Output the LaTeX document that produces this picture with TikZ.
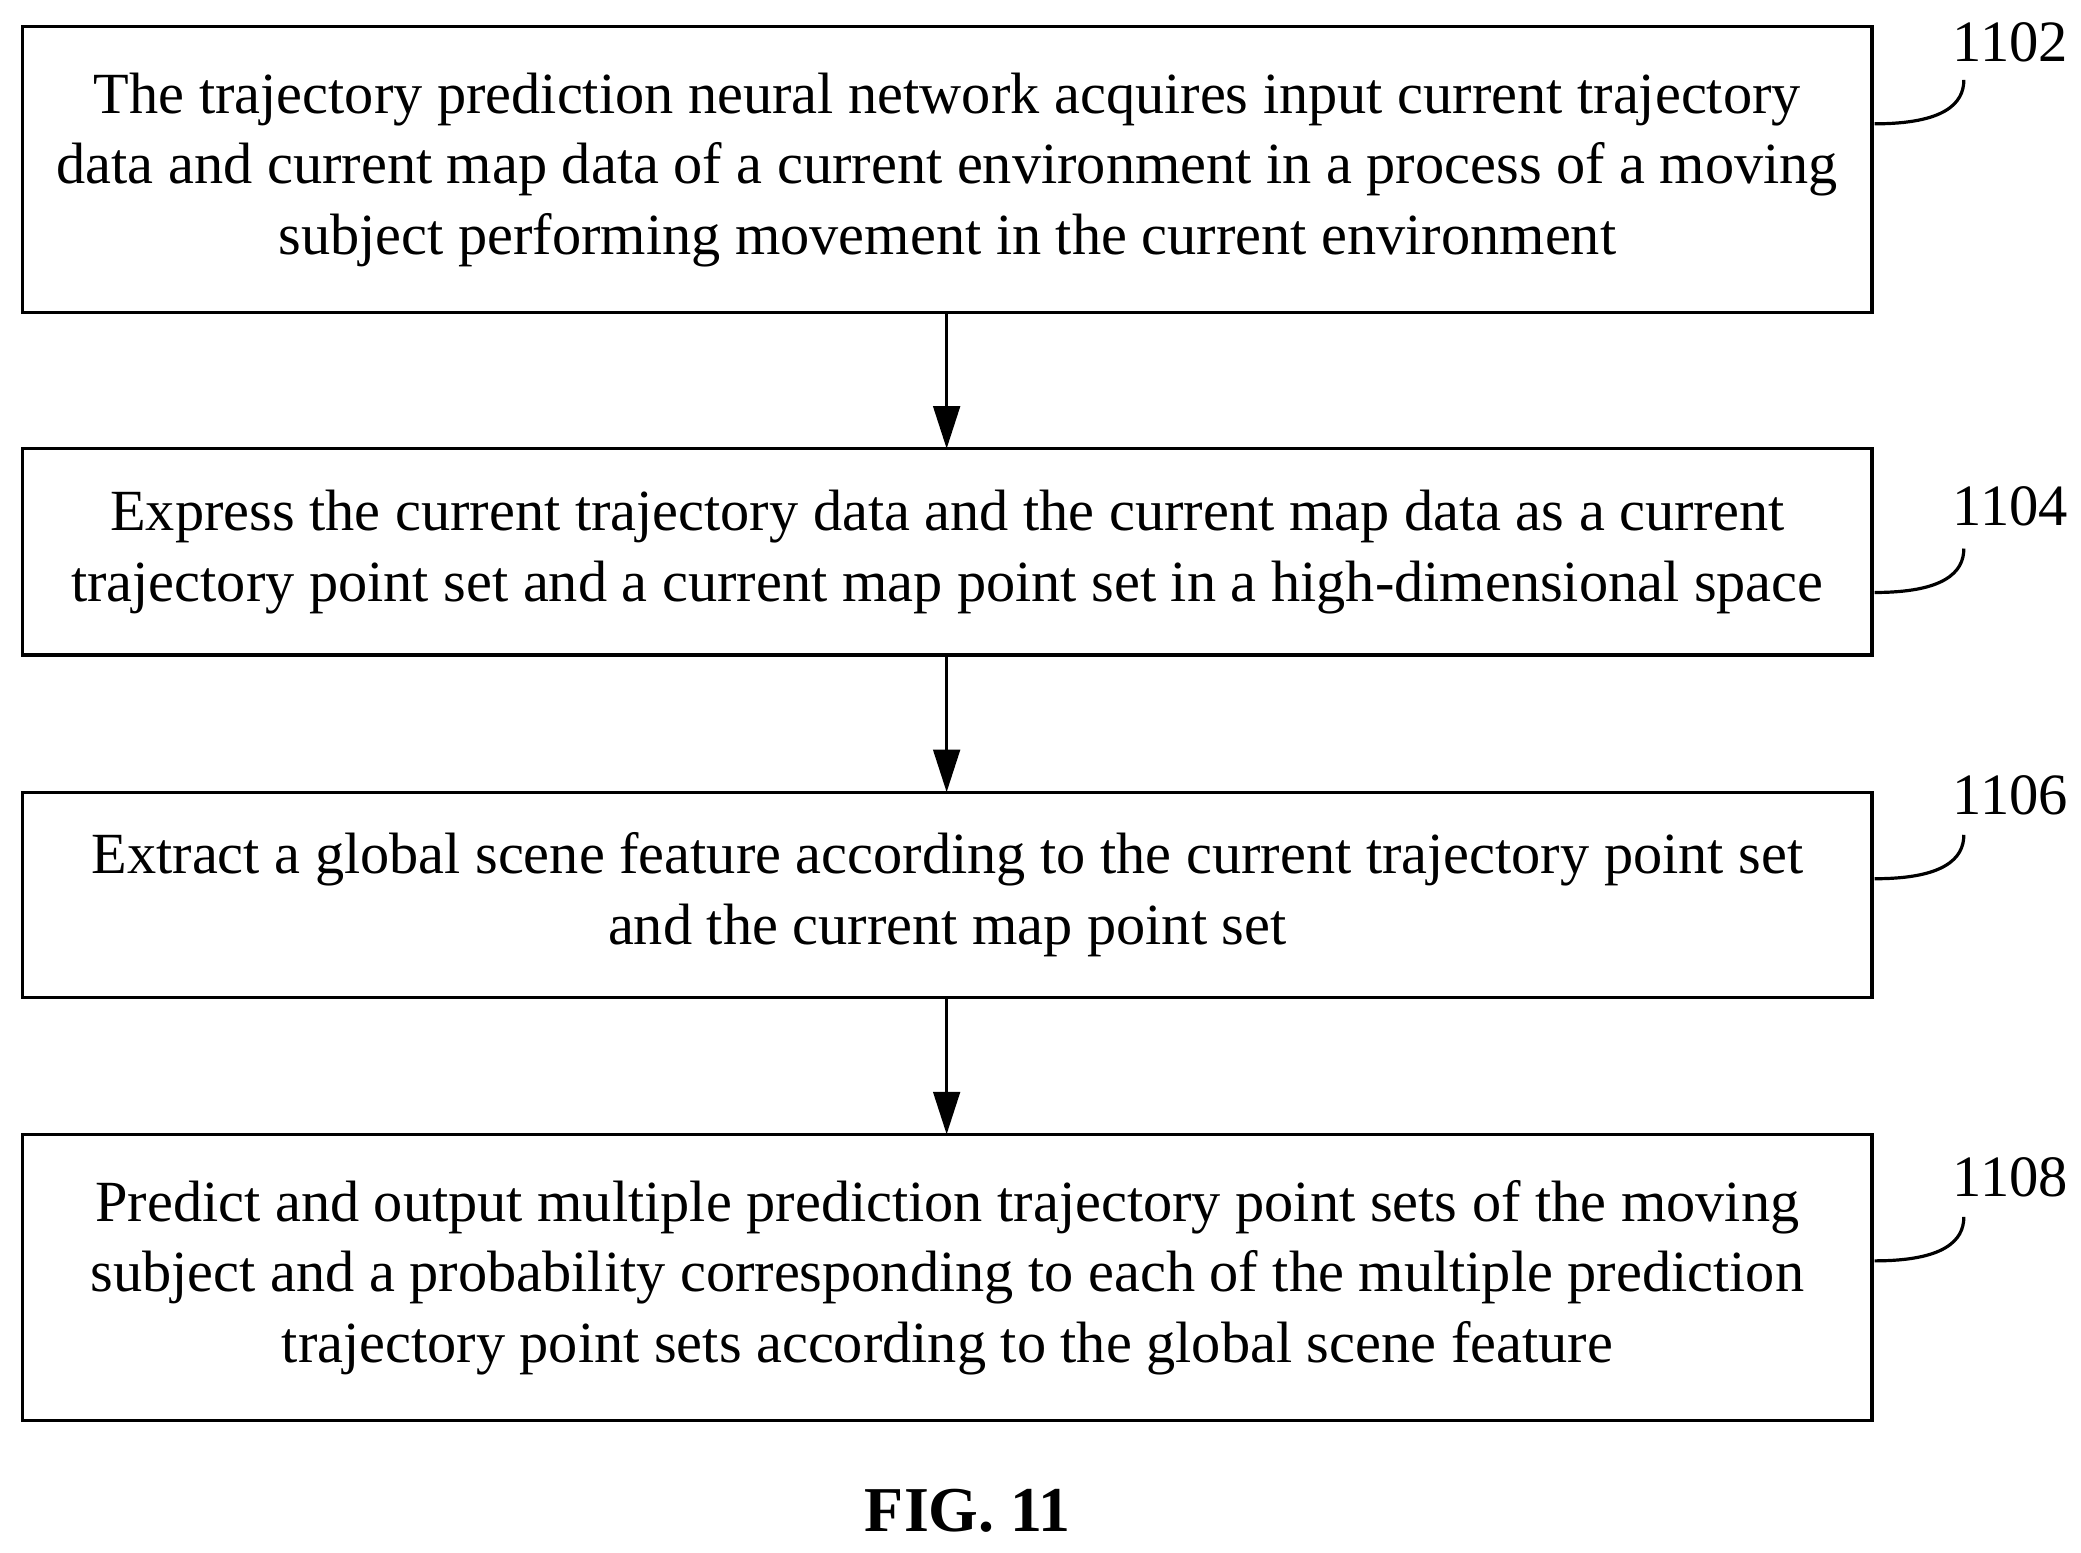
\documentclass[tikz,border=0pt]{standalone}
\usepackage{fontspec}
\setmainfont{Liberation Serif}
\usetikzlibrary{arrows.meta}
\begin{document}
\begin{tikzpicture}[x=0.5pt,y=-0.5pt,
  stepbox/.style={align=center,font=\fontsize{21.9}{26.5}\selectfont,inner sep=0pt},
  arr/.style={-{Triangle[length=16pt,width=10pt]},line width=1.2pt},
  lbl/.style={font=\fontsize{22}{24}\selectfont},
  lead/.style={line width=1.2pt}]
\useasboundingbox (0,0) rectangle (1563,1166);
\draw[line width=1.2pt] (17,20) rectangle (1406,235);
\node[stepbox] (b1) at (711.5,127.5) {The trajectory prediction neural network acquires input current trajectory\\data and current map data of a current environment in a process of a moving\\subject performing movement in the current environment};
\draw[line width=1.2pt] (17,337) rectangle (1406,492);
\node[stepbox] (b2) at (711.5,414.5) {Express the current trajectory data and the current map data as a current\\trajectory point set and a current map point set in a high-dimensional space};
\draw[line width=1.2pt] (17,595) rectangle (1406,749);
\node[stepbox] (b3) at (711.5,672) {Extract a global scene feature according to the current trajectory point set\\and the current map point set};
\draw[line width=1.2pt] (17,852) rectangle (1406,1067);
\node[stepbox] (b4) at (711.5,959.5) {Predict and output multiple prediction trajectory point sets of the moving\\subject and a probability corresponding to each of the multiple prediction\\trajectory point sets according to the global scene feature};
\coordinate (a1s) at (711,235); \coordinate (a1e) at (711,337);
\coordinate (a2s) at (711,492); \coordinate (a2e) at (711,595);
\coordinate (a3s) at (711,749); \coordinate (a3e) at (711,852);
\draw[arr] (a1s) -- (a1e);
\draw[arr] (a2s) -- (a2e);
\draw[arr] (a3s) -- (a3e);
\node[lbl] (l1) at (1510,32) {1102};
\node[lbl] (l2) at (1510,380) {1104};
\node[lbl] (l3) at (1510,597) {1106};
\node[lbl] (l4) at (1510,884) {1108};
\foreach \y in {93,445,660,947}{
  \draw[lead] (1408,\y) .. controls (1460,\y) and (1475,\y-15) .. (1475,\y-33);
}
\node[font=\bfseries\fontsize{24}{28}\selectfont] (fig) at (727,1135) {FIG. 11};
\end{tikzpicture}
\end{document}
